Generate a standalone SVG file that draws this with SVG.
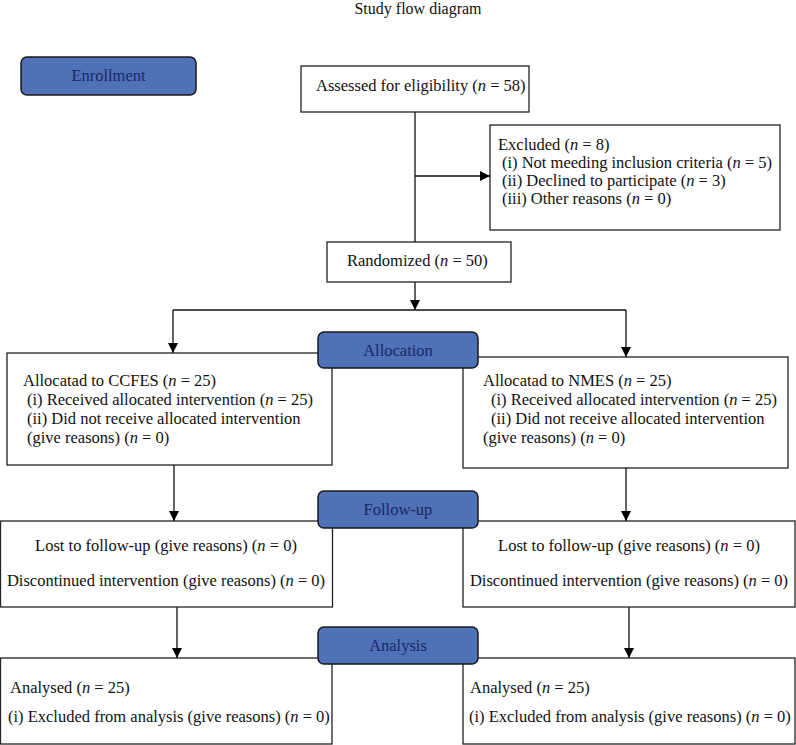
<svg xmlns="http://www.w3.org/2000/svg" width="796" height="745" viewBox="0 0 796 745">
<defs>
<marker id="arr" markerUnits="userSpaceOnUse" markerWidth="11" markerHeight="11" refX="10" refY="5" orient="auto">
<path d="M0,0 L10,5 L0,10 z" fill="#000"/>
</marker>
<style>
text{font-family:"Liberation Serif","Times New Roman",serif;font-size:16.5px;fill:#111}
.box{fill:#fff;stroke:#222;stroke-width:1.3}
.stage{fill:#4e71b7;stroke:#1a1a1a;stroke-width:1.5}
.stage-t{fill:#1d2868;text-anchor:middle}
.c{text-anchor:middle}
.ln{stroke:#111;stroke-width:1.3;fill:none}
.ar{stroke:#111;stroke-width:1.3;fill:none;marker-end:url(#arr)}
.it{font-style:italic}
</style>
</defs>
<rect width="796" height="745" fill="#fff"/>
<text x="418" y="14" class="c" style="font-size:16px">Study flow diagram</text>

<g id="enrollment">
<rect class="stage" x="21" y="57" width="175" height="38" rx="6"/>
<text class="stage-t" x="108.5" y="81">Enrollment</text>
</g>

<g id="assessed">
<rect class="box" x="301" y="66" width="228" height="46"/>
<text x="316" y="91">Assessed for eligibility (<tspan class="it">n</tspan> = 58)</text>
</g>

<g id="excluded">
<rect class="box" x="490" y="125" width="290" height="105"/>
<text x="498" y="150">Excluded (<tspan class="it">n</tspan> = 8)</text>
<text x="502" y="168">(i) Not meeding inclusion criteria (<tspan class="it">n</tspan> = 5)</text>
<text x="502" y="186">(ii) Declined to participate (<tspan class="it">n</tspan> = 3)</text>
<text x="502" y="204">(iii) Other reasons (<tspan class="it">n</tspan> = 0)</text>
</g>

<g id="randomized">
<rect class="box" x="327" y="242" width="184" height="40"/>
<text x="347" y="266">Randomized (<tspan class="it">n</tspan> = 50)</text>
</g>

<g id="alloc-ccfes">
<rect class="box" x="7" y="353" width="325" height="112"/>
<text x="23" y="386">Allocatad to CCFES (<tspan class="it">n</tspan> = 25)</text>
<text x="27" y="405">(i) Received allocated intervention (<tspan class="it">n</tspan> = 25)</text>
<text x="27" y="424">(ii) Did not receive allocated intervention</text>
<text x="27" y="443">(give reasons) (<tspan class="it">n</tspan> = 0)</text>
</g>

<g id="alloc-nmes">
<rect class="box" x="463" y="357" width="325" height="111"/>
<text x="483" y="386">Allocatad to NMES (<tspan class="it">n</tspan> = 25)</text>
<text x="491" y="405">(i) Received allocated intervention (<tspan class="it">n</tspan> = 25)</text>
<text x="491" y="424">(ii) Did not receive allocated intervention</text>
<text x="483" y="443">(give reasons) (<tspan class="it">n</tspan> = 0)</text>
</g>

<g id="follow-left">
<rect class="box" x="0.5" y="521" width="332" height="86"/>
<text class="c" x="166" y="551">Lost to follow-up (give reasons) (<tspan class="it">n</tspan> = 0)</text>
<text class="c" x="166" y="586">Discontinued intervention (give reasons) (<tspan class="it">n</tspan> = 0)</text>
</g>

<g id="follow-right">
<rect class="box" x="463" y="521" width="332" height="86"/>
<text class="c" x="629" y="551">Lost to follow-up (give reasons) (<tspan class="it">n</tspan> = 0)</text>
<text class="c" x="629" y="586">Discontinued intervention (give reasons) (<tspan class="it">n</tspan> = 0)</text>
</g>

<g id="analysis-left">
<rect class="box" x="0.5" y="658" width="331.5" height="86"/>
<text x="10" y="693">Analysed (<tspan class="it">n</tspan> = 25)</text>
<text x="8" y="722">(i) Excluded from analysis (give reasons) (<tspan class="it">n</tspan> = 0)</text>
</g>

<g id="analysis-right">
<rect class="box" x="463" y="658" width="332" height="86"/>
<text x="470" y="693">Analysed (<tspan class="it">n</tspan> = 25)</text>
<text x="469" y="722">(i) Excluded from analysis (give reasons) (<tspan class="it">n</tspan> = 0)</text>
</g>

<g id="connectors">
<line class="ln" x1="415" y1="112" x2="415" y2="242"/>
<line class="ar" x1="415" y1="176" x2="490" y2="176"/>
<line class="ar" x1="415" y1="282" x2="415" y2="310"/>
<line class="ln" x1="173" y1="310" x2="626" y2="310"/>
<line class="ar" x1="173" y1="310" x2="173" y2="353"/>
<line class="ar" x1="626" y1="310" x2="626" y2="357"/>
<line class="ar" x1="174" y1="465" x2="174" y2="521"/>
<line class="ar" x1="626" y1="468" x2="626" y2="521"/>
<line class="ar" x1="177" y1="607" x2="177" y2="658"/>
<line class="ar" x1="629" y1="607" x2="629" y2="658"/>
</g>

<g id="allocation">
<rect class="stage" x="318" y="332" width="160" height="36" rx="6"/>
<text class="stage-t" x="398" y="356">Allocation</text>
</g>

<g id="follow-up">
<rect class="stage" x="318" y="491" width="160" height="37" rx="6"/>
<text class="stage-t" x="398" y="515">Follow-up</text>
</g>

<g id="analysis">
<rect class="stage" x="318" y="627" width="160" height="37" rx="6"/>
<text class="stage-t" x="398" y="651">Analysis</text>
</g>
</svg>
